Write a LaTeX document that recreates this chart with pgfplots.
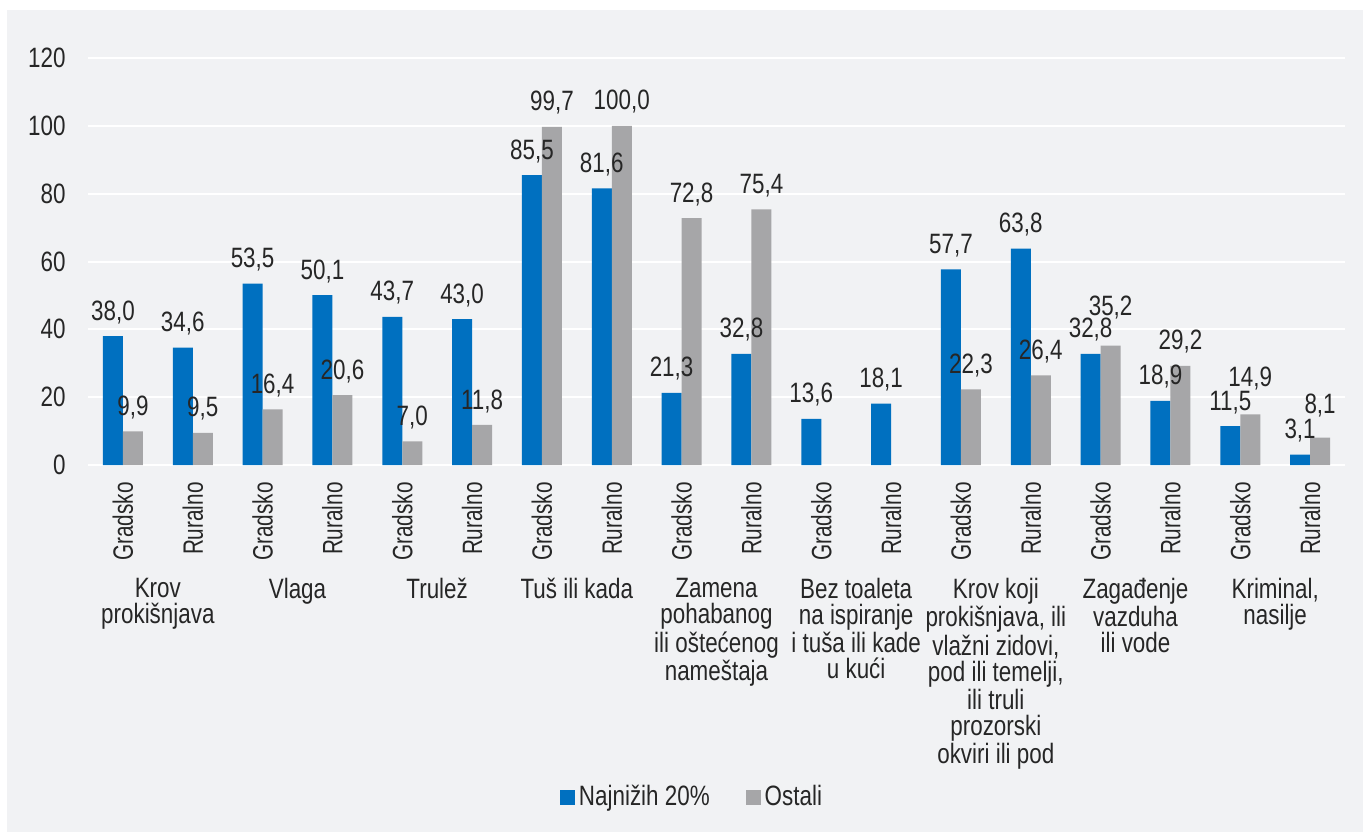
\documentclass[border=0pt]{standalone}
\usepackage{pgfplots}
\pgfplotsset{compat=1.18}
\usepackage{fontspec}
\setmainfont{Liberation Sans}[FakeStretch=0.8]
\newfontfamily\narrowf{Liberation Sans}[FakeStretch=0.74]
\definecolor{cblue}{RGB}{0,112,192}
\definecolor{cgray}{RGB}{166,166,168}
\definecolor{bg}{RGB}{241,242,244}
\definecolor{txt}{RGB}{38,38,38}
\newcommand{\cf}{\fontsize{14}{13}\selectfont}
\newcommand{\lab}{\pgfmathprintnumber[fixed,fixed zerofill,precision=1,use comma]{\pgfplotspointmeta}}

\pgfplotstableread{
x v
0 38.0
1 34.6
2 53.5
3 50.1
4 43.7
5 43.0
6 85.5
7 81.6
8 21.3
9 32.8
10 13.6
11 18.1
12 57.7
13 63.8
14 32.8
15 18.9
16 11.5
17 3.1
}\tblblue
% ly = height at which the label sits (raised where labels would collide)
\pgfplotstableread{
x v ly
0 9.9 9.9
1 9.5 9.5
2 16.4 16.4
3 20.6 20.6
4 7.0 7.0
5 11.8 11.8
6 99.7 99.7
7 100.0 100.0
8 72.8 72.8
9 75.4 75.4
12 22.3 22.3
13 26.4 26.4
14 35.2 39.3
15 29.2 29.2
16 14.9 18.4
17 8.1 10.5
}\tblgray

\begin{document}
\begin{tikzpicture}
\fill[white] (-44pt,-183.5pt) rectangle (637.5pt,232.5pt);
\fill[bg] (-40.5pt,-183.5pt) rectangle (637.5pt,227.5pt);
\useasboundingbox (-44pt,-183.5pt) rectangle (637.5pt,232.5pt);
\begin{axis}[
  at={(0pt,0pt)}, anchor=south west,
  scale only axis, width=628.5pt, height=203.5pt,
  bar width=10pt,
  xmin=-0.5, xmax=17.5, ymin=0, ymax=120,
  ytick={0,20,...,120},
  ymajorgrids, major grid style={white, line width=1pt},
  axis line style={draw=none}, tick style={draw=none},
  clip=false,
  /pgf/number format/assume math mode=true,
  xtick=\empty,
  yticklabel style={anchor=east, inner sep=0pt, font=\cf, text=txt},
  yticklabel shift=11pt,
  every node near coord/.append style={font=\cf, text=txt, inner sep=0pt, yshift=6pt},
  legend style={at={(0.4813,-0.8157)}, anchor=center, draw=none, fill=none,
    font=\cf, text=txt, legend columns=2,
    /tikz/every even column/.append style={column sep=16pt}},
]
\addplot[ybar, bar shift=-5pt, fill=cblue, draw=none,
  nodes near coords={\lab\hspace*{10pt}},
  legend image code/.code={\fill[cblue] (0pt,-3.75pt) rectangle (7.5pt,3.75pt);}]
  table[x=x,y=v] {\tblblue};
\addlegendentry{Najnižih 20\%}
\addplot[ybar, bar shift=5pt, fill=cgray, draw=none,
  legend image code/.code={\fill[cgray] (0pt,-3.75pt) rectangle (7.5pt,3.75pt);}]
  table[x=x,y=v] {\tblgray};
\addlegendentry{Ostali}
\addplot[ybar, bar shift=5pt, fill=none, draw=none, forget plot,
  point meta=\thisrow{v},
  nodes near coords={\hspace*{10pt}\lab}]
  table[x=x,y=ly] {\tblgray};

\tikzset{ticklab/.style={yshift=-8.5pt, rotate=90, anchor=east, inner sep=0pt, font=\narrowf\cf, text=txt}}
\pgfplotsinvokeforeach{0,2,4,6,8,10,12,14,16}{\node[ticklab] at (axis cs:#1,0) {Gradsko};}
\pgfplotsinvokeforeach{1,3,5,7,9,11,13,15,17}{\node[ticklab] at (axis cs:#1,0) {Ruralno};}

\tikzset{catlab/.style={anchor=north, align=center, font=\cf, text=txt, inner sep=0pt, yshift=-56.5pt}}
\node[catlab] at (axis cs:0.5,0) {Krov\\prokišnjava};
\node[catlab] at (axis cs:2.5,0) {Vlaga};
\node[catlab] at (axis cs:4.5,0) {Trulež};
\node[catlab] at (axis cs:6.5,0) {Tuš ili kada};
\node[catlab] at (axis cs:8.5,0) {Zamena\\pohabanog\\ili oštećenog\\nameštaja};
\node[catlab] at (axis cs:10.5,0) {Bez toaleta\\na ispiranje\\i tuša ili kade\\u kući};
\node[catlab] at (axis cs:12.5,0) {Krov koji\\prokišnjava, ili\\vlažni zidovi,\\pod ili temelji,\\ili truli\\prozorski\\okviri ili pod};
\node[catlab] at (axis cs:14.5,0) {Zagađenje\\vazduha\\ili vode};
\node[catlab] at (axis cs:16.5,0) {Kriminal,\\nasilje};
\end{axis}
\end{tikzpicture}
\end{document}
